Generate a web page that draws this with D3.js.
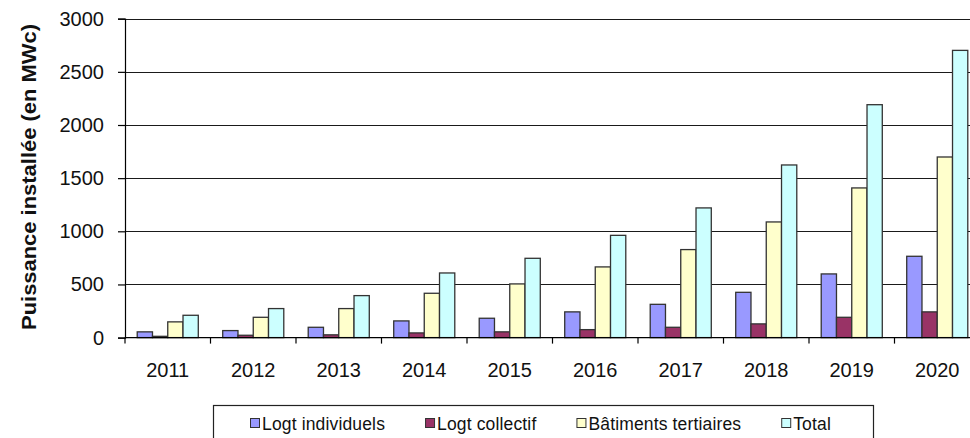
<!DOCTYPE html>
<html>
<head>
<meta charset="utf-8">
<script src="https://cdn.jsdelivr.net/npm/d3@7"></script>
<style>
  html, body { margin: 0; padding: 0; background: #fff; overflow: hidden; }
  svg { display: block; font-family: "Liberation Sans", Arial, sans-serif; }
</style>
</head>
<body>
<svg id="chart" width="970" height="438"></svg>
<script>
const years = ["2011","2012","2013","2014","2015","2016","2017","2018","2019","2020"];
const seriesNames = ["Logt individuels","Logt collectif","Bâtiments tertiaires","Total"];
const logtIndividuels = [54, 66, 97, 157, 182, 242, 313, 426, 599, 765];
const logtCollectif   = [12, 22, 26, 44, 54, 75, 97, 129, 191, 242];
const batimentsTertiaires = [148, 191, 273, 417, 505, 665, 828, 1088, 1408, 1699];
const total = [210, 273, 395, 608, 746, 962, 1220, 1624, 2191, 2702];
const yTicks = [0, 500, 1000, 1500, 2000, 2500, 3000];
const colors = ["#9999FF", "#993366", "#FFFFCC", "#CCFFFF"];
const yTitle = "Puissance installée (en MWc)";

const seriesValues = [logtIndividuels, logtCollectif, batimentsTertiaires, total];
const rows = years.map((yr, i) => ({year: yr, values: seriesNames.map((s, j) => ({key: s, idx: j, value: seriesValues[j][i]}))}));

const svg = d3.select("#chart");
const plotLeft = 125, plotRight = 980, plotTop = 18.7, plotBottom = 337.6;

const x = d3.scaleBand().domain(years).range([plotLeft, plotRight]).padding(0);
const x1 = d3.scaleBand().domain(seriesNames).range([0, x.bandwidth()]).paddingInner(0).paddingOuter(0.8);
const y = d3.scaleLinear().domain([0, 3000]).range([plotBottom, plotTop]);

// gridlines
svg.append("g").selectAll("line").data(yTicks.filter(d => d > 0)).join("line")
  .attr("x1", plotLeft).attr("x2", plotRight)
  .attr("y1", d => Math.round(y(d)) + 0.5).attr("y2", d => Math.round(y(d)) + 0.5)
  .attr("stroke", "#1a1a1a").attr("stroke-width", 1.2);

// bars
const g = svg.append("g").selectAll("g").data(rows).join("g")
  .attr("transform", d => `translate(${x(d.year)},0)`);
g.selectAll("rect").data(d => d.values).join("rect")
  .attr("x", d => x1(d.key))
  .attr("width", x1.bandwidth())
  .attr("y", d => y(d.value))
  .attr("height", d => y(0) - y(d.value))
  .attr("fill", d => colors[d.idx])
  .attr("stroke", "#333")
  .attr("stroke-width", 1.3);

// y axis
const yAxis = d3.axisLeft(y).tickValues(yTicks).tickSize(7).tickPadding(14).tickFormat(d3.format("d"));
const ya = svg.append("g").attr("transform", `translate(${plotLeft},0)`).call(yAxis);
ya.select(".domain").attr("stroke", "#000").attr("stroke-width", 1.2);
ya.selectAll(".tick line").attr("stroke", "#000").attr("stroke-width", 1.2);
ya.selectAll(".tick text").attr("font-size", 20).attr("fill", "#111").attr("font-family", "Liberation Sans, Arial, sans-serif");

// x axis (baseline with ticks at category boundaries)
svg.append("line").attr("x1", plotLeft).attr("x2", plotRight)
  .attr("y1", y(0)).attr("y2", y(0)).attr("stroke", "#000").attr("stroke-width", 1.2);
svg.append("g").selectAll("line").data(years).join("line")
  .attr("x1", d => x(d)).attr("x2", d => x(d))
  .attr("y1", y(0)).attr("y2", y(0) + 6)
  .attr("stroke", "#000").attr("stroke-width", 1.2);
svg.append("g").selectAll("text").data(years).join("text")
  .attr("x", d => x(d) + x.bandwidth() / 2)
  .attr("y", 376.5)
  .attr("text-anchor", "middle")
  .attr("font-size", 20).attr("fill", "#111")
  .text(d => d);

// y title
svg.append("text")
  .attr("transform", "translate(36,177) rotate(-90)")
  .attr("text-anchor", "middle")
  .attr("font-size", 19.5).attr("font-weight", "bold").attr("fill", "#111")
  .attr("textLength", 306).attr("lengthAdjust", "spacingAndGlyphs")
  .text(yTitle);

// legend
svg.append("rect").attr("x", 213.5).attr("y", 405.5).attr("width", 660).attr("height", 50)
  .attr("fill", "#fff").attr("stroke", "#222").attr("stroke-width", 1.2);
let lx = 250;
seriesNames.forEach((s, i) => {
  svg.append("rect").attr("x", lx + 0.5).attr("y", 418.5).attr("width", 9).attr("height", 9)
    .attr("fill", colors[i]).attr("stroke", "#333").attr("stroke-width", 1);
  const t = svg.append("text").attr("x", lx + 12).attr("y", 430)
    .attr("font-size", 17.5).attr("letter-spacing", 0.15).attr("fill", "#111").text(s);
  lx = lx + 12 + t.node().getComputedTextLength() + 40;
});
</script>
</body>
</html>
